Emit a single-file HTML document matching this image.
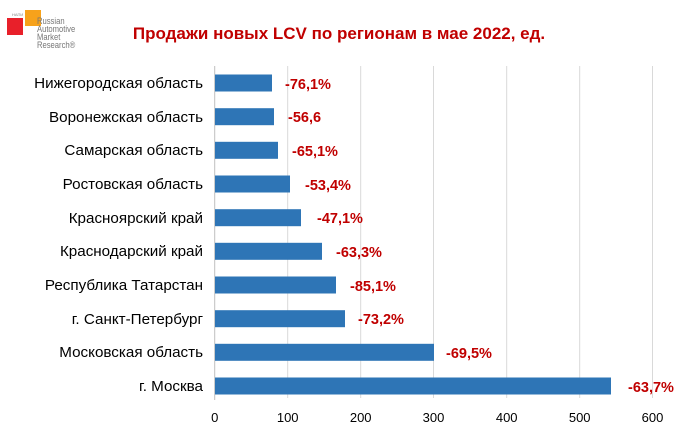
<!DOCTYPE html>
<html><head><meta charset="utf-8"><style>
body{margin:0;background:#fff;}
</style></head><body>
<svg width="678" height="429" xmlns="http://www.w3.org/2000/svg" font-family="Liberation Sans, sans-serif">
<rect width="678" height="429" fill="#fff"/>
<!-- logo -->
<rect x="25" y="10" width="16" height="16" fill="#f7a21b"/>
<rect x="7" y="18" width="16" height="17" fill="#e8202a"/>
<text x="12" y="16" font-size="4" fill="#888">НАПИ</text>
<g font-size="9" fill="#777" transform="scale(0.85,1)">
<text x="43.5" y="24">Russian</text><text x="43.5" y="32">Automotive</text><text x="43.5" y="40">Market</text><text x="43.5" y="48">Research®</text>
</g>
<text x="339" y="39" font-size="17" font-weight="bold" fill="#c00000" text-anchor="middle">Продажи новых LCV по регионам в мае 2022, ед.</text>
<g stroke="#d9d9d9" stroke-width="1">
<line x1="287.7" y1="66" x2="287.7" y2="398"/><line x1="360.7" y1="66" x2="360.7" y2="398"/>
<line x1="433.5" y1="66" x2="433.5" y2="398"/><line x1="506.7" y1="66" x2="506.7" y2="398"/>
<line x1="579.7" y1="66" x2="579.7" y2="398"/><line x1="652.5" y1="66" x2="652.5" y2="398"/>
</g>
<line x1="214.7" y1="66" x2="214.7" y2="400" stroke="#bfbfbf"/>
<g fill="#2e75b6">
<rect x="215" y="74.5" width="57" height="17"/>
<rect x="215" y="108.2" width="59" height="17"/>
<rect x="215" y="141.8" width="63" height="17"/>
<rect x="215" y="175.5" width="75" height="17"/>
<rect x="215" y="209.2" width="86" height="17"/>
<rect x="215" y="242.8" width="107" height="17"/>
<rect x="215" y="276.5" width="121" height="17"/>
<rect x="215" y="310.2" width="130" height="17"/>
<rect x="215" y="343.8" width="219" height="17"/>
<rect x="215" y="377.5" width="396" height="17"/>
</g>
<g font-size="15.2" fill="#000" text-anchor="end">
<text x="203" y="88">Нижегородская область</text>
<text x="203" y="122">Воронежская область</text>
<text x="203" y="155">Самарская область</text>
<text x="203" y="189">Ростовская область</text>
<text x="203" y="223">Красноярский край</text>
<text x="203" y="256">Краснодарский край</text>
<text x="203" y="290">Республика Татарстан</text>
<text x="203" y="324">г. Санкт-Петербург</text>
<text x="203" y="357">Московская область</text>
<text x="203" y="391">г. Москва</text>
</g>
<g font-size="14.5" font-weight="bold" fill="#c00000">
<text x="285" y="89">-76,1%</text>
<text x="288" y="122">-56,6</text>
<text x="292" y="156">-65,1%</text>
<text x="305" y="190">-53,4%</text>
<text x="317" y="223">-47,1%</text>
<text x="336" y="257">-63,3%</text>
<text x="350" y="291">-85,1%</text>
<text x="358" y="324">-73,2%</text>
<text x="446" y="358">-69,5%</text>
<text x="628" y="392">-63,7%</text>
</g>
<g font-size="13" fill="#000" text-anchor="middle">
<text x="214.7" y="422">0</text><text x="287.7" y="422">100</text><text x="360.7" y="422">200</text>
<text x="433.5" y="422">300</text><text x="506.7" y="422">400</text><text x="579.7" y="422">500</text>
<text x="652.5" y="422">600</text>
</g>
</svg>
</body></html>
